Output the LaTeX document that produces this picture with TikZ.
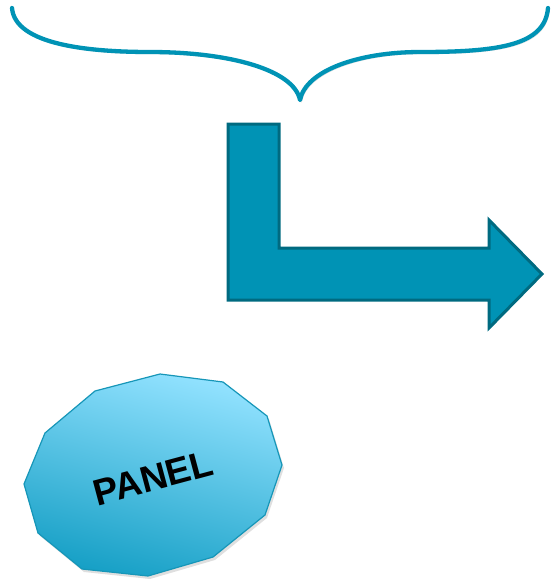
\documentclass[tikz,border=0pt]{standalone}
\usepackage{fontspec}
\setmainfont{Liberation Sans}
\usetikzlibrary{shadows}
\definecolor{teal1}{HTML}{0093B5}
\definecolor{teal2}{HTML}{006A80}
\definecolor{panelTop}{HTML}{92E2FF}
\definecolor{panelBot}{HTML}{17A0C6}
\definecolor{panelEdge}{HTML}{1696B8}
\tikzset{
  bracestyle/.style={draw=teal1, line width=4.3pt, line cap=round, line join=round,
    drop shadow={shadow xshift=1.5pt, shadow yshift=-2pt, opacity=0.25, fill=none, draw=black!60}},
  bentarrow/.style={fill=teal1, draw=teal2, line width=3pt, line join=miter},
  panelshape/.style={draw=panelEdge, line width=1.2pt, top color=panelTop, bottom color=panelBot, shading angle=-15,
    drop shadow={shadow xshift=2pt, shadow yshift=-3pt, opacity=0.25}},
  paneltext/.style={font=\bfseries\fontsize{37}{42}\selectfont, rotate=15, text=black}
}
\begin{document}
\begin{tikzpicture}[x=1pt,y=-1pt]
\useasboundingbox (0,0) rectangle (550,579);
% brace
\draw[bracestyle] (12,8) .. controls (15,45) and (90,52) .. (150,52)
  .. controls (230,52) and (294,70) .. (300,100)
  .. controls (306,70) and (360,52) .. (420,52)
  .. controls (500,52) and (545,45) .. (548,8);
% bent arrow
\draw[bentarrow] (228,124) -- (279,124) -- (279,248) -- (489,248) -- (489,220)
  -- (542,274) -- (489,328) -- (489,300) -- (228,300) -- cycle;
% panel
\draw[panelshape] (160,374) -- (223,382) -- (267,416) -- (282,465) -- (265,515)
  -- (213,557) -- (148,576) -- (82,569) -- (38,533) -- (24,484) -- (45,433)
  -- (95,391) -- cycle;
\node[paneltext] (panel) at (153,478) {PANEL};
\end{tikzpicture}
\end{document}
